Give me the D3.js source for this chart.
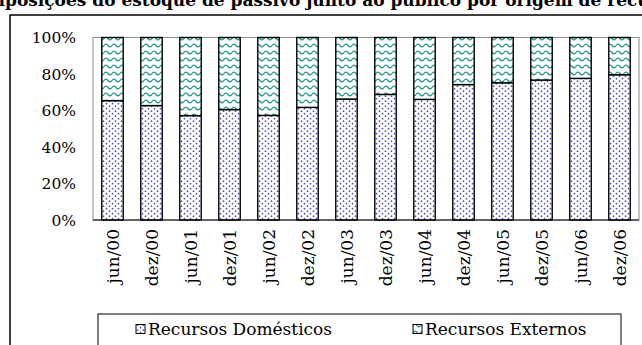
<!DOCTYPE html>
<html>
<head>
<meta charset="utf-8">
<script src="https://cdn.jsdelivr.net/npm/d3@7"></script>
<style>
  body { margin: 0; background: #fff; }
  svg { display: block; font-family: "DejaVu Serif", "Liberation Serif", serif; }
</style>
</head>
<body>
<div id="chart"></div>
<script>

const categories = ["jun/00", "dez/00", "jun/01", "dez/01", "jun/02", "dez/02", "jun/03",
    "dez/03", "jun/04", "dez/04", "jun/05", "dez/05", "jun/06", "dez/06"];
const domestic = [65.4, 62.7, 57.2, 60.5, 57.3, 61.7, 66.3, 68.8, 66.1, 74.2, 75.2, 76.7, 77.6, 79.6];
const external = [34.6, 37.3, 42.8, 39.5, 42.7, 38.3, 33.7, 31.2, 33.9, 25.8, 24.8, 23.3, 22.4, 20.4];
const yTicks = [0, 20, 40, 60, 80, 100];
const seriesNames = ["Recursos Domésticos", "Recursos Externos"];
const titleText = "Composições do estoque de passivo junto ao público por origem de recursos";

const width = 642, height = 345;
const svg = d3.select("#chart").append("svg")
    .attr("width", width)
    .attr("height", height);

// patterns
const defs = svg.append("defs");
const dots = defs.append("pattern")
    .attr("id", "dots")
    .attr("patternUnits", "userSpaceOnUse")
    .attr("width", 6).attr("height", 5);
dots.append("rect").attr("width", 6).attr("height", 5).attr("fill", "#fff");
dots.append("circle").attr("cx", 1.5).attr("cy", 1.2).attr("r", 0.85).attr("fill", "#4a4ac4");
dots.append("circle").attr("cx", 4.5).attr("cy", 3.7).attr("r", 0.85).attr("fill", "#4a4ac4");

const waves = defs.append("pattern")
    .attr("id", "waves")
    .attr("patternUnits", "userSpaceOnUse")
    .attr("width", 8).attr("height", 7);
waves.append("rect").attr("width", 8).attr("height", 7).attr("fill", "#fff");
waves.append("path")
    .attr("d", "M0,3.5 Q2,0.8 4,3.5 T8,3.5")
    .attr("fill", "none")
    .attr("stroke", "#259a92")
    .attr("stroke-width", 1.4);

// title (clipped at top of window, as in the original)
const title = svg.append("text")
    .attr("font-weight", "bold")
    .attr("font-size", 17)
    .attr("y", 6);
title.text("Com");
const preLen = title.node().getComputedTextLength();
title.text(titleText).attr("x", 5 - preLen);

// outer border
svg.append("rect")
    .attr("x", 10).attr("y", 15)
    .attr("width", 700).attr("height", 400)
    .attr("fill", "none")
    .attr("stroke", "#000")
    .attr("stroke-width", 1.5);

const plot = { left: 93, right: 639, top: 37.5, bottom: 220 };

const x = d3.scaleBand()
    .domain(categories)
    .range([plot.left, plot.right])
    .paddingInner(0.45)
    .paddingOuter(0.225);

const y = d3.scaleLinear()
    .domain([0, 100])
    .range([plot.bottom, plot.top]);

// plot area border
svg.append("rect")
    .attr("x", plot.left).attr("y", plot.top)
    .attr("width", plot.right - plot.left)
    .attr("height", plot.bottom - plot.top)
    .attr("fill", "none")
    .attr("stroke", "#8c8c8c")
    .attr("stroke-width", 1);

const table = categories.map(function (c, i) {
    return { cat: c, dom: domestic[i], ext: external[i] };
});
const stacked = d3.stack().keys(["dom", "ext"])(table);
const fills = ["url(#dots)", "url(#waves)"];

svg.selectAll("g.series")
    .data(stacked)
    .enter()
    .append("g")
    .attr("class", "series")
    .attr("fill", function (d, i) { return fills[i]; })
    .selectAll("rect")
    .data(function (d) { return d; })
    .enter()
    .append("rect")
    .attr("x", function (d) { return x(d.data.cat); })
    .attr("width", x.bandwidth())
    .attr("y", function (d) { return y(d[1]); })
    .attr("height", function (d) { return y(d[0]) - y(d[1]); })
    .attr("stroke", "#000")
    .attr("stroke-width", 1.4);

// x axis line
svg.append("line")
    .attr("x1", plot.left).attr("x2", plot.right)
    .attr("y1", plot.bottom).attr("y2", plot.bottom)
    .attr("stroke", "#000")
    .attr("stroke-width", 1.2);

// y tick labels
svg.selectAll("text.ytick")
    .data(yTicks)
    .enter()
    .append("text")
    .attr("class", "ytick")
    .attr("x", 76)
    .attr("y", function (d) { return y(d); })
    .attr("dy", "0.36em")
    .attr("text-anchor", "end")
    .attr("font-size", 15.5)
    .text(function (d) { return d + "%"; });

// x tick labels (rotated)
svg.selectAll("text.xtick")
    .data(categories)
    .enter()
    .append("text")
    .attr("class", "xtick")
    .attr("transform", function (d) {
        return "translate(" + (x(d) + x.bandwidth() / 2) + "," + 229 + ") rotate(-90)";
    })
    .attr("dy", "0.36em")
    .attr("text-anchor", "end")
    .attr("font-size", 17)
    .text(function (d) { return d; });

// legend
svg.append("rect")
    .attr("x", 98).attr("y", 314)
    .attr("width", 523).attr("height", 40)
    .attr("fill", "#fff")
    .attr("stroke", "#000")
    .attr("stroke-width", 1);

const legendX = [136, 413];
const legend = svg.selectAll("g.legend")
    .data(seriesNames)
    .enter()
    .append("g")
    .attr("class", "legend")
    .attr("transform", function (d, i) { return "translate(" + legendX[i] + ",329)"; });

legend.append("rect")
    .attr("x", 0).attr("y", -4.5)
    .attr("width", 9).attr("height", 9)
    .attr("fill", function (d, i) { return fills[i]; })
    .attr("stroke", "#000")
    .attr("stroke-width", 1);

legend.append("text")
    .attr("x", 12)
    .attr("dy", "0.36em")
    .attr("font-size", 17)
    .text(function (d) { return d; });

</script>
</body>
</html>
